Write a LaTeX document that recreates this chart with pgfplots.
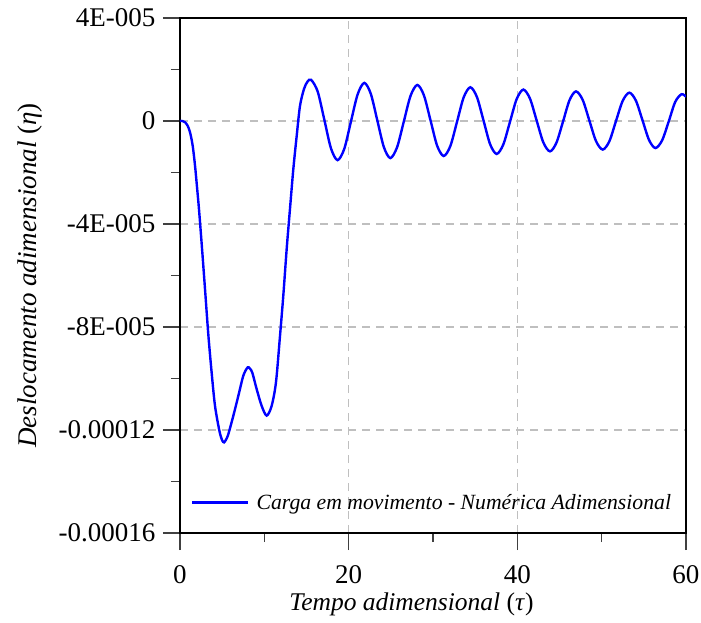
\documentclass[border=0pt]{standalone}
\usepackage{pgfplots}
\pgfplotsset{compat=1.18}
\usepackage{fontspec}
\setmainfont{Liberation Serif}
\begin{document}
\begin{tikzpicture}
\begin{axis}[
  scale only axis, width=506pt, height=515pt,
  xmin=0, xmax=60, ymin=-16e-5, ymax=4e-5,
  xtick={0,20,40,60}, xticklabels={0,20,40,60},
  minor xtick={10,30,50},
  ytick={-16e-5,-12e-5,-8e-5,-4e-5,0,4e-5},
  yticklabels={-0.00016,-0.00012,-8E-005,-4E-005,0,4E-005},
  minor ytick={-14e-5,-10e-5,-6e-5,-2e-5,2e-5},
  scaled y ticks=false, scaled x ticks=false,
  xtick pos=bottom, ytick pos=left,
  xtick align=outside, ytick align=outside,
  major tick length=17pt, minor tick length=9pt,
  every major tick/.append style={black!75, line width=1.1pt},
  every minor tick/.append style={black!75, line width=1.1pt},
  axis line style={black, line width=1.1pt},
  grid=major,
  major grid style={black!25, line width=1.2pt, dash pattern=on 8pt off 6pt},
  ticklabel style={font=\fontsize{27}{30}\selectfont},
  xticklabel style={yshift=-12pt},
  yticklabel style={xshift=-4pt},
  xlabel={\textit{Tempo adimensional} (\textit{τ})},
  ylabel={\textit{Deslocamento adimensional} (\textit{η})},
  xlabel style={font=\fontsize{25.5}{30}\selectfont, at={(axis description cs:0.4575,0)}, anchor=base, yshift=-77pt},
  ylabel style={font=\fontsize{27}{30}\selectfont, at={(axis description cs:0,0.5)}, anchor=base, yshift=143pt},
  legend style={draw=none, fill=none, at={(axis description cs:0,0)}, anchor=south west, xshift=11pt, yshift=20pt,
    font=\fontsize{21.7}{26}\selectfont\itshape, inner sep=0pt},
  legend cell align=left,
  legend image code/.code={\draw[#1, line width=2.4pt] (0pt,0pt) -- (56pt,0pt); \path (61pt,0pt);},
]
\addplot[blue, line width=2.4pt, smooth, tension=0.5] table {
x y
0 0
0.3 0
0.6 -0.05e-5
0.9 -0.18e-5
1.19 -0.44e-5
1.5 -0.95e-5
1.78 -1.73e-5
2.0 -2.5e-5
2.25 -3.42e-5
2.6 -4.9e-5
2.96 -6.5e-5
3.36 -8.3e-5
3.75 -9.76e-5
4.15 -11.06e-5
4.67 -12.03e-5
5.0 -12.40e-5
5.22 -12.48e-5
5.45 -12.38e-5
5.73 -12.16e-5
6.33 -11.44e-5
6.92 -10.67e-5
7.51 -9.89e-5
8.02 -9.57e-5
8.3 -9.62e-5
8.58 -9.78e-5
9.09 -10.41e-5
9.68 -11.06e-5
10.28 -11.44e-5
10.87 -11.06e-5
11.38 -10.15e-5
11.86 -8.34e-5
12.25 -6.78e-5
12.65 -4.97e-5
13.04 -3.42e-5
13.44 -1.86e-5
13.84 -0.57e-5
14.23 0.59e-5
14.7 1.24e-5
15.1 1.52e-5
15.55 1.60e-5
16.33 1.14e-5
17.12 0.04e-5
17.90 -1.06e-5
18.68 -1.52e-5
19.48 -1.08e-5
20.27 -0.02e-5
21.07 1.04e-5
21.86 1.48e-5
22.63 1.05e-5
23.40 0.02e-5
24.17 -1.01e-5
24.94 -1.44e-5
25.74 -1.02e-5
26.54 -0.02e-5
27.34 0.98e-5
28.14 1.40e-5
28.92 1.00e-5
29.71 0.02e-5
30.49 -0.96e-5
31.27 -1.36e-5
32.06 -0.97e-5
32.85 -0.03e-5
33.64 0.92e-5
34.43 1.31e-5
35.21 0.93e-5
35.99 0.02e-5
36.77 -0.90e-5
37.55 -1.28e-5
38.34 -0.91e-5
39.13 -0.03e-5
39.92 0.85e-5
40.71 1.22e-5
41.50 0.87e-5
42.29 0.02e-5
43.08 -0.83e-5
43.87 -1.18e-5
44.64 -0.84e-5
45.42 -0.02e-5
46.19 0.81e-5
46.96 1.15e-5
47.75 0.82e-5
48.54 0.02e-5
49.33 -0.78e-5
50.12 -1.11e-5
50.91 -0.79e-5
51.70 0.00
52.49 0.78e-5
53.28 1.10e-5
54.06 0.79e-5
54.84 0.03e-5
55.62 -0.74e-5
56.38 -1.05e-5
57.17 -0.75e-5
57.95 -0.02e-5
58.72 0.74e-5
59.47 1.04e-5
60 0.94e-5
};
\addlegendentry{Carga em movimento - Numérica Adimensional}
\end{axis}
\pgfresetboundingbox
\path (current axis.south west) ++(-180pt,-89pt) rectangle ++(701pt,622pt);
\end{tikzpicture}
\end{document}
